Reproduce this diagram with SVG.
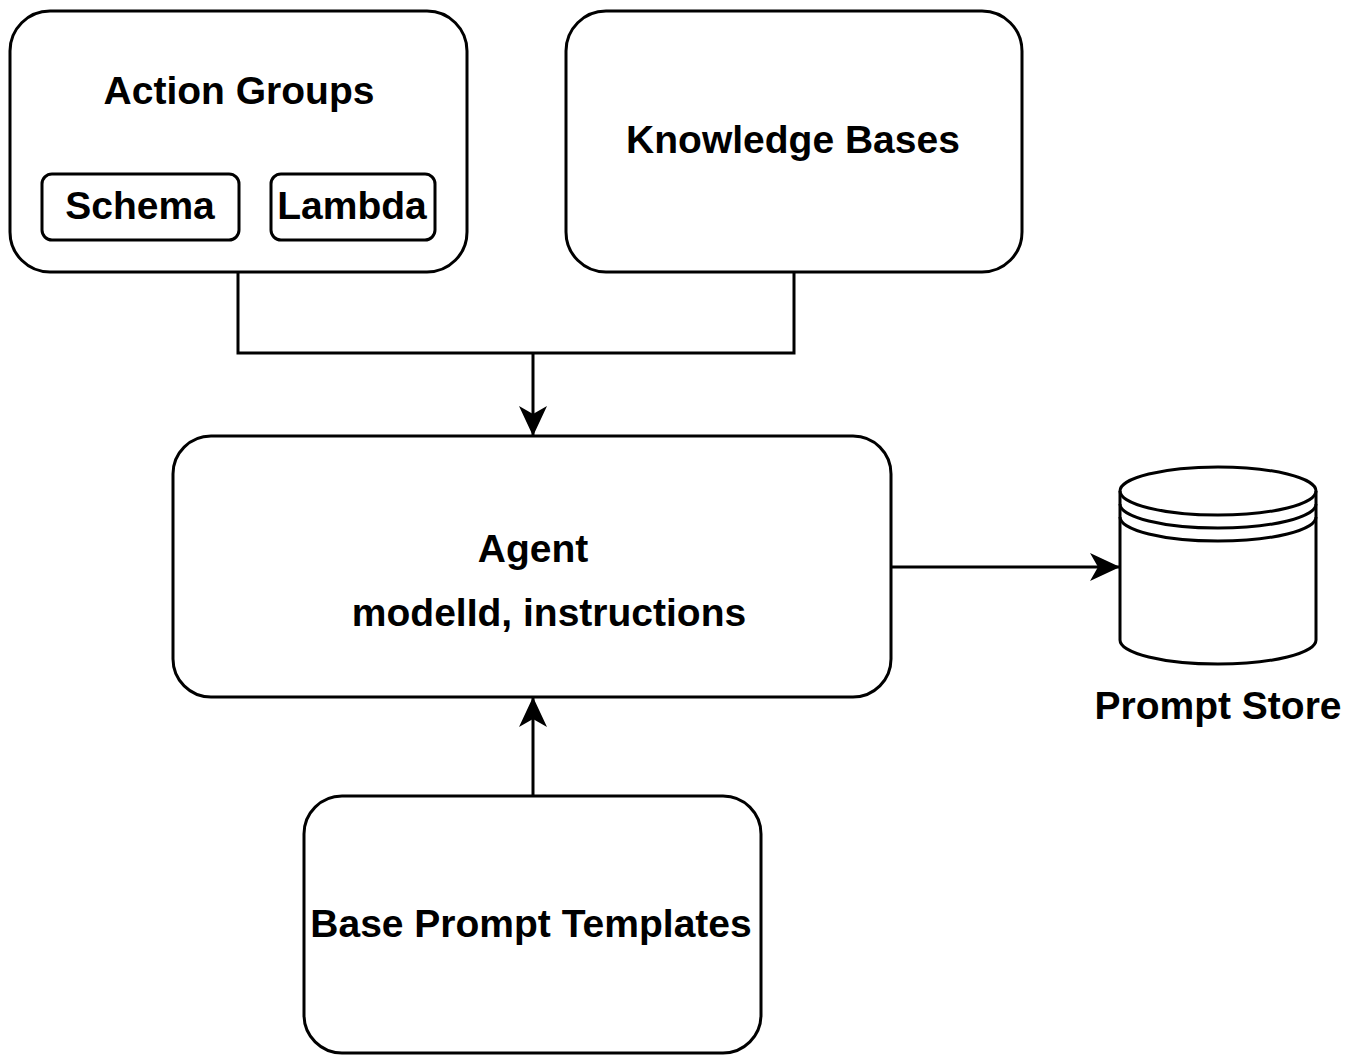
<svg xmlns="http://www.w3.org/2000/svg" width="1354" height="1055" viewBox="0 0 1354 1055">
<style>
.box{fill:#fff;stroke:#000;stroke-width:3}
.line{fill:none;stroke:#000;stroke-width:3}
text{font-family:"Liberation Sans",Arial,sans-serif;font-weight:bold;font-size:39px;fill:#000;text-anchor:middle}
</style>
<defs>
<marker id="arr" viewBox="0 0 30 30" refX="29" refY="15" markerWidth="30" markerHeight="30" markerUnits="userSpaceOnUse" orient="auto">
<path d="M0,1 L30,15 L0,29 L8,15 Z" fill="#000"/>
</marker>
</defs>
<rect width="1354" height="1055" fill="#fff"/>
<g id="connectors">
<path class="line" d="M238,272 V353 H794 V272"/>
<path class="line" d="M533,353 V435" marker-end="url(#arr)"/>
<path class="line" d="M891,567 H1119" marker-end="url(#arr)"/>
<path class="line" d="M533,796 V698" marker-end="url(#arr)"/>
</g>
<g id="action-groups">
<rect class="box" x="10" y="11" width="457" height="261" rx="40"/>
<text x="239" y="104">Action Groups</text>
</g>
<g id="schema">
<rect class="box" x="42" y="174" width="197" height="66" rx="10"/>
<text x="140" y="219">Schema</text>
</g>
<g id="lambda">
<rect class="box" x="271" y="174" width="164" height="66" rx="10"/>
<text x="352" y="219">Lambda</text>
</g>
<g id="knowledge-bases">
<rect class="box" x="566" y="11" width="456" height="261" rx="40"/>
<text x="793" y="153">Knowledge Bases</text>
</g>
<g id="agent">
<rect class="box" x="173" y="436" width="718" height="261" rx="38"/>
<text x="533" y="562">Agent</text>
<text x="549" y="626">modelId, instructions</text>
</g>
<g id="base-prompt-templates">
<rect class="box" x="304" y="796" width="457" height="257" rx="38"/>
<text x="531" y="937">Base Prompt Templates</text>
</g>
<g id="prompt-store">
<path class="box" d="M1120,491 A98,24 0 0 1 1316,491 V640 A98,24 0 0 1 1120,640 Z"/>
<path class="line" d="M1120,491 A98,24 0 0 0 1316,491"/>
<path class="line" d="M1120,504 A98,24 0 0 0 1316,504"/>
<path class="line" d="M1120,517 A98,24 0 0 0 1316,517"/>
<text x="1218" y="719">Prompt Store</text>
</g>
</svg>
